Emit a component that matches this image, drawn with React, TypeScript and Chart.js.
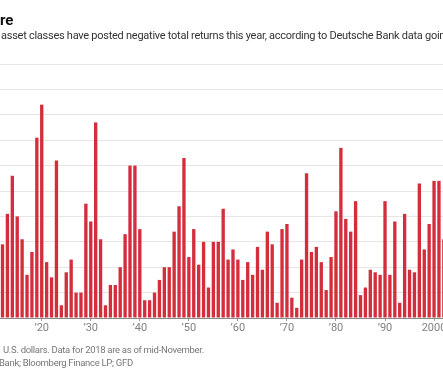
import React, { useEffect, useRef } from "react";
import { Chart, registerables } from "chart.js";

Chart.register(...registerables);

// Years visible in the cropped chart and share (%) of asset classes with negative returns
const years: number[] = [
  1912, 1913, 1914, 1915, 1916, 1917, 1918, 1919, 1920, 1921,
  1922, 1923, 1924, 1925, 1926, 1927, 1928, 1929, 1930, 1931,
  1932, 1933, 1934, 1935, 1936, 1937, 1938, 1939, 1940, 1941,
  1942, 1943, 1944, 1945, 1946, 1947, 1948, 1949, 1950, 1951,
  1952, 1953, 1954, 1955, 1956, 1957, 1958, 1959, 1960, 1961,
  1962, 1963, 1964, 1965, 1966, 1967, 1968, 1969, 1970, 1971,
  1972, 1973, 1974, 1975, 1976, 1977, 1978, 1979, 1980, 1981,
  1982, 1983, 1984, 1985, 1986, 1987, 1988, 1989, 1990, 1991,
  1992, 1993, 1994, 1995, 1996, 1997, 1998, 1999, 2000, 2001,
  2002,
];

const negativeShare: number[] = [
  29, 41, 56, 40, 31, 17, 26, 71, 84, 22,
  16, 62, 5, 18, 23, 10, 10, 45, 38, 77,
  31, 5, 13, 13, 20, 33, 60, 60, 35, 7,
  7, 10, 15, 20, 20, 34, 44, 63, 24, 35,
  21, 30, 12, 30, 30, 43, 23, 27, 23, 15,
  22, 17, 28, 19, 34, 29, 6, 35, 37, 8,
  4, 23, 57, 26, 28, 22, 11, 24, 42, 67,
  39, 34, 46, 9, 12, 19, 18, 17, 46, 17,
  38, 6, 41, 19, 18, 53, 27, 37, 54, 54,
  31,
];

const tickYears: number[] = [1920, 1930, 1940, 1950, 1960, 1970, 1980, 1990, 2000];
const tickLabels: string[] = ["\u201920", "\u201930", "\u201940", "\u201950", "\u201960", "\u201970", "\u201980", "\u201990", "2000"];

const titleText = "re";
const subtitleText =
  "asset classes have posted negative total returns this year, according to Deutsche Bank data going";
const noteText = "U.S. dollars. Data for 2018 are as of mid-November.";
const sourceText = "Bank; Bloomberg Finance LP; GFD";

const CANVAS_W = 480;
const PX_PER_YEAR = 4.904;
const X_MIN = 1912 - 2.5 / PX_PER_YEAR;
const X_MAX = X_MIN + CANVAS_W / PX_PER_YEAR;

export default function App() {
  const canvasRef = useRef<HTMLCanvasElement | null>(null);

  useEffect(() => {
    document.body.style.margin = "0";
    const canvas = canvasRef.current;
    if (!canvas) return;
    const chart = new Chart(canvas, {
      type: "bar",
      data: {
        datasets: [
          {
            data: years.map((yr, i) => ({ x: yr, y: negativeShare[i] })),
            backgroundColor: "#d42d3b",
            borderWidth: 0,
            barPercentage: 0.68,
            categoryPercentage: 1,
          },
        ],
      },
      options: {
        animation: false,
        responsive: false,
        maintainAspectRatio: false,
        layout: { padding: { top: 64, left: 0, right: 0, bottom: 0 } },
        plugins: {
          legend: { display: false },
          tooltip: { enabled: false },
          title: { display: false },
        },
        scales: {
          x: {
            type: "linear",
            min: X_MIN,
            max: X_MAX,
            offset: false,
            afterBuildTicks: (scale: any) => {
              scale.ticks = tickYears.map((v) => ({ value: v }));
            },
            afterFit: (scale: any) => {
              scale.height = 52;
            },
            ticks: {
              autoSkip: false,
              maxRotation: 0,
              padding: 1,
              color: "#808080",
              font: { family: "Roboto", size: 11 },
              callback: (v: any) => {
                const idx = tickYears.indexOf(Number(v));
                return idx >= 0 ? tickLabels[idx] : "";
              },
            },
            grid: {
              display: true,
              offset: false,
              drawOnChartArea: false,
              drawTicks: true,
              tickLength: 3,
              color: "#999",
            },
            border: { display: true, color: "#8a8a8a", width: 1 },
          },
          y: {
            min: 0,
            max: 100,
            ticks: { display: false, stepSize: 10 },
            grid: { color: "#e6e6e6", drawTicks: false, lineWidth: 1 },
            border: { display: false },
          },
        },
      },
    });
    return () => chart.destroy();
  }, []);

  return (
    <div
      style={{
        position: "fixed",
        left: 0,
        top: 0,
        width: 443,
        height: 370,
        overflow: "hidden",
        background: "#fff",
      }}
    >
      <canvas
        ref={canvasRef}
        width={CANVAS_W}
        height={370}
        style={{ position: "absolute", left: 0, top: 0, width: CANVAS_W, height: 370 }}
      />
      <div
        style={{
          position: "absolute",
          left: 0,
          top: 12,
          font: "bold 15px Roboto",
          lineHeight: "16px",
          color: "#111",
          whiteSpace: "nowrap",
        }}
      >
        {titleText}
      </div>
      <div
        style={{
          position: "absolute",
          left: 1,
          top: 30,
          font: "11px Roboto",
          lineHeight: "12px",
          letterSpacing: "-0.26px",
          color: "#333",
          whiteSpace: "nowrap",
        }}
      >
        {subtitleText}
      </div>
      <div
        style={{
          position: "absolute",
          left: 3,
          top: 344,
          font: "9.5px Roboto",
          lineHeight: "11px",
          letterSpacing: "-0.3px",
          color: "#777",
          whiteSpace: "nowrap",
        }}
      >
        {noteText}
      </div>
      <div
        style={{
          position: "absolute",
          left: -1,
          top: 357,
          font: "9.5px Roboto",
          lineHeight: "11px",
          letterSpacing: "-0.3px",
          color: "#777",
          whiteSpace: "nowrap",
        }}
      >
        {sourceText}
      </div>
    </div>
  );
}
